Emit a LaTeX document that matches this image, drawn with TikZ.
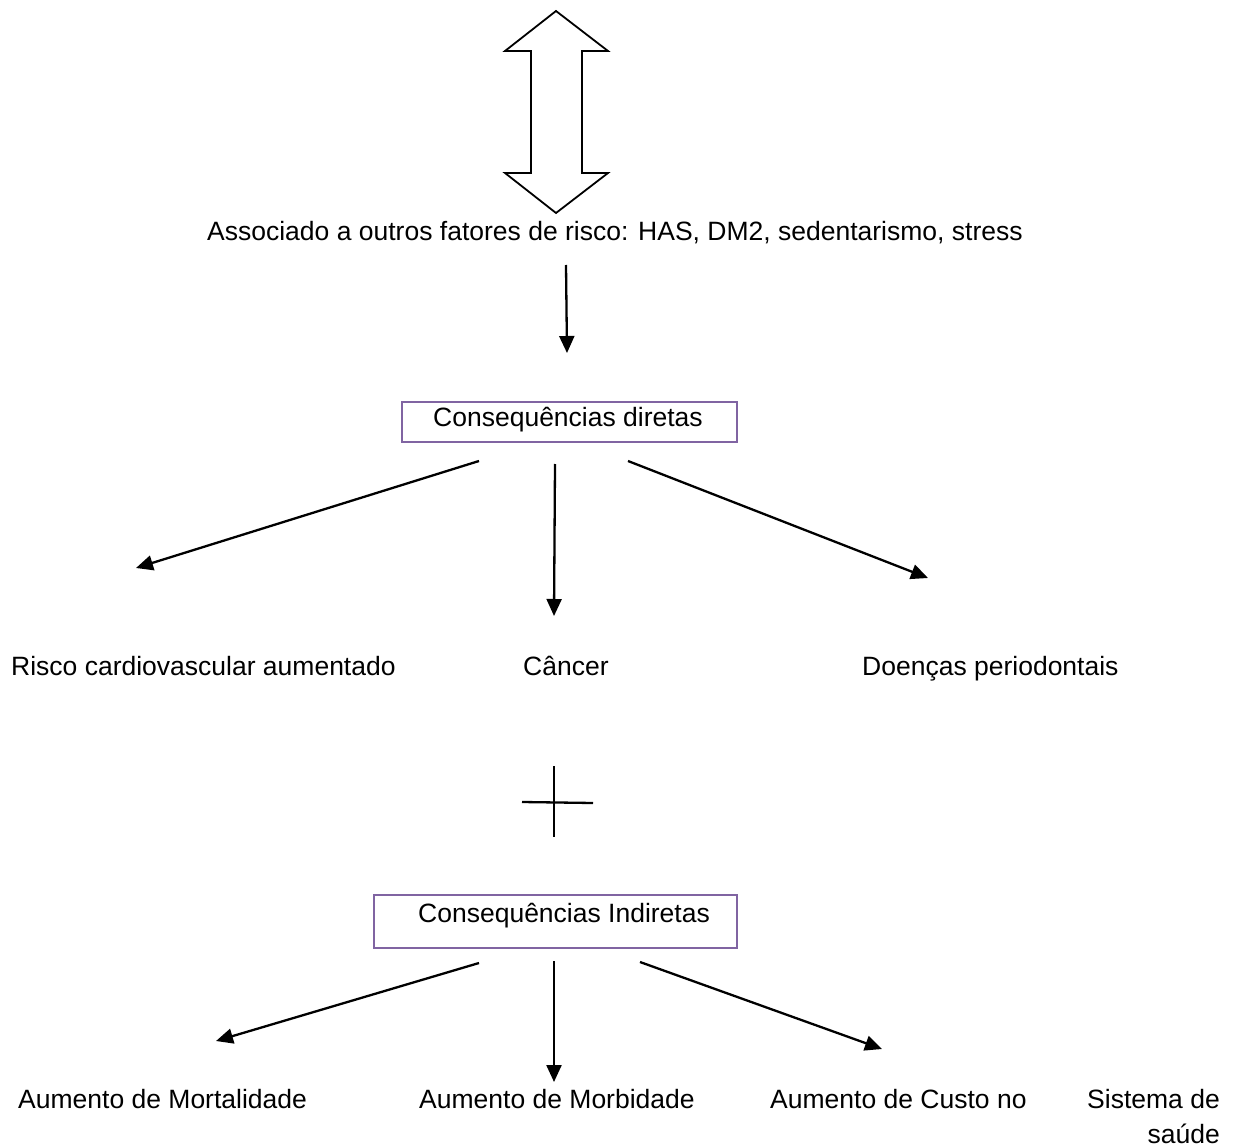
\documentclass[tikz,border=0pt]{standalone}
\usepackage{fontspec}
\setmainfont{Liberation Sans}
\usetikzlibrary{arrows.meta}
\definecolor{boxpurple}{HTML}{8064A2}
\begin{document}
\begin{tikzpicture}[x=1pt,y=-1pt,
  txt/.style={font=\fontsize{26.5}{31}\selectfont, inner sep=0pt, anchor=base west},
  framebox/.style={draw=boxpurple, line width=1.8pt, inner sep=0pt},
  conn/.style={line width=2.3pt, -{Triangle[length=17pt,width=15pt]}},
  bigarrow/.style={draw=black, line width=1.8pt, fill=white, line join=miter}]
\useasboundingbox (0,0) rectangle (1234,1147);
% double block arrow
\draw[bigarrow] (556,11) -- (608,51) -- (582,51) -- (582,173) -- (608,173) -- (556,213)
  -- (505,173) -- (531,173) -- (531,51) -- (505,51) -- cycle;
% texts
\node[txt] (assoc) at (207,241) {Associado a outros fatores de risco: HAS, DM2, sedentarismo, stress};
\node[framebox, minimum width=335pt, minimum height=40pt] (box1) at (569.5,422) {};
\node[txt] (box1t) at (433,426) {Consequências diretas};
\node[txt] (risco) at (11,675) {Risco cardiovascular aumentado};
\node[txt] (cancer) at (523,675) {Câncer};
\node[txt] (doencas) at (862,675) {Doenças periodontais};
\node[framebox, minimum width=363pt, minimum height=53pt] (box2) at (555.5,921.5) {};
\node[txt] (box2t) at (418,922) {Consequências Indiretas};
\node[txt] (mort) at (18,1108) {Aumento de Mortalidade};
\node[txt] (morb) at (419,1108) {Aumento de Morbidade};
\node[txt] (custo) at (770,1108) {Aumento de Custo no};
\node[txt, anchor=base east] (sist) at (1220,1108) {Sistema de};
\node[txt, anchor=base east] (saude) at (1220,1143) {saúde};
% connector end points
\coordinate (a0s) at (566,265); \coordinate (a0e) at (567,353);
\coordinate (a1s) at (479,461); \coordinate (a1e) at (136,568);
\coordinate (a2s) at (555,464); \coordinate (a2e) at (554,616);
\coordinate (a3s) at (628,461); \coordinate (a3e) at (928,578);
\coordinate (b1s) at (479,963); \coordinate (b1e) at (216,1041);
\coordinate (b2s) at (554,961); \coordinate (b2e) at (554,1082);
\coordinate (b3s) at (640,962); \coordinate (b3e) at (882,1049);
\draw[conn] (a0s) -- (a0e);
\draw[conn] (a1s) -- (a1e);
\draw[conn] (a2s) -- (a2e);
\draw[conn] (a3s) -- (a3e);
\draw[conn] (b1s) -- (b1e);
\draw[conn] (b2s) -- (b2e);
\draw[conn] (b3s) -- (b3e);
% plus sign
\coordinate (pv1) at (554,766); \coordinate (pv2) at (554,837);
\coordinate (ph1) at (522,802); \coordinate (ph2) at (593,803);
\draw[line width=2.3pt] (pv1) -- (pv2);
\draw[line width=2.3pt] (ph1) -- (ph2);
\end{tikzpicture}
\end{document}
